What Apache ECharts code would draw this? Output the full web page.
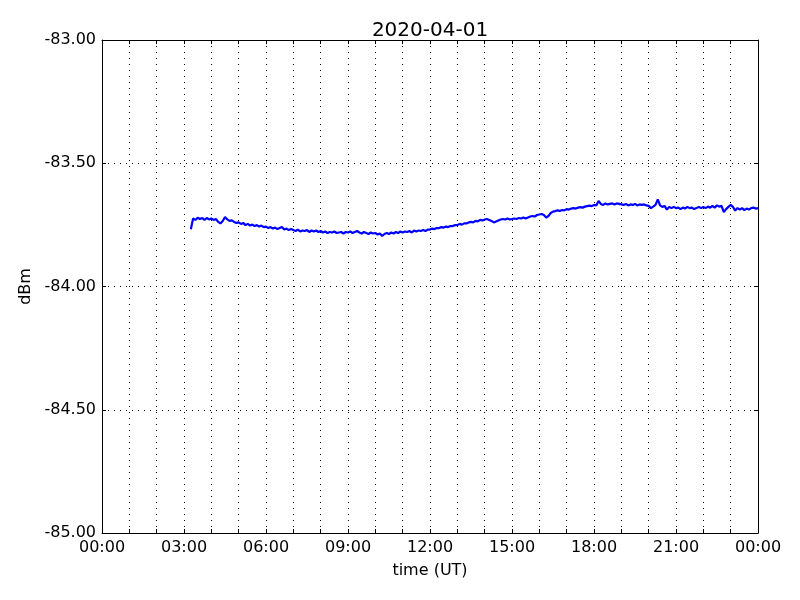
<!DOCTYPE html>
<html>
<head>
<meta charset="utf-8">
<script src="https://cdn.jsdelivr.net/npm/echarts@6/dist/echarts.min.js"></script>
<style>html,body{margin:0;padding:0;background:#fff;}#chart{width:800px;height:600px;}</style>
</head>
<body>
<div id="chart"></div>
<script>
// ---- data ----
const titleText = "2020-04-01";
const xAxisName = "time (UT)";
const yAxisName = "dBm";
const xTickHours = [0, 3, 6, 9, 12, 15, 18, 21, 24];
const yTicks = [-85.0, -84.5, -84.0, -83.5, -83.0];
const startTime = "03:15";   // first sample (UT)
const stepMinutes = 5;       // sample spacing
const powerDbm = [
  // 03:15 - 03:55
  -83.768, -83.724, -83.730, -83.721, -83.726, -83.722, -83.730, -83.722, -83.728,
  // 04
  -83.724, -83.730, -83.726, -83.738, -83.744, -83.734, -83.718, -83.728, -83.734, -83.732, -83.738, -83.742,
  // 05
  -83.740, -83.746, -83.742, -83.751, -83.746, -83.753, -83.749, -83.755, -83.751, -83.757, -83.753, -83.759,
  // 06
  -83.757, -83.763, -83.759, -83.765, -83.761, -83.767, -83.763, -83.759, -83.769, -83.765, -83.771, -83.767,
  // 07
  -83.771, -83.775, -83.769, -83.777, -83.773, -83.775, -83.771, -83.779, -83.773, -83.777, -83.773, -83.779,
  // 08
  -83.775, -83.781, -83.777, -83.783, -83.779, -83.781, -83.777, -83.783, -83.781, -83.779, -83.785, -83.779,
  // 09
  -83.781, -83.777, -83.783, -83.779, -83.775, -83.781, -83.785, -83.779, -83.783, -83.787, -83.781, -83.785,
  // 10
  -83.783, -83.789, -83.785, -83.795, -83.787, -83.783, -83.787, -83.781, -83.785, -83.779, -83.783, -83.777,
  // 11
  -83.781, -83.777, -83.779, -83.775, -83.781, -83.773, -83.777, -83.773, -83.775, -83.771, -83.775, -83.769,
  // 12
  -83.769, -83.765, -83.767, -83.763, -83.763, -83.759, -83.761, -83.757, -83.759, -83.755, -83.755, -83.751,
  // 13
  -83.751, -83.746, -83.749, -83.744, -83.744, -83.740, -83.738, -83.740, -83.734, -83.736, -83.730, -83.732,
  // 14
  -83.728, -83.726, -83.730, -83.734, -83.740, -83.736, -83.732, -83.728, -83.726, -83.728, -83.724, -83.728,
  // 15
  -83.726, -83.724, -83.726, -83.722, -83.724, -83.720, -83.724, -83.720, -83.716, -83.714, -83.716, -83.710,
  // 16
  -83.708, -83.706, -83.710, -83.720, -83.714, -83.702, -83.696, -83.694, -83.691, -83.694, -83.690, -83.691,
  // 17
  -83.686, -83.688, -83.684, -83.682, -83.684, -83.680, -83.678, -83.680, -83.676, -83.674, -83.672, -83.674,
  // 18
  -83.669, -83.671, -83.653, -83.665, -83.669, -83.663, -83.667, -83.665, -83.663, -83.667, -83.663, -83.665,
  // 19
  -83.667, -83.669, -83.665, -83.671, -83.667, -83.669, -83.665, -83.671, -83.667, -83.669, -83.667, -83.671,
  // 20
  -83.673, -83.682, -83.676, -83.669, -83.647, -83.671, -83.677, -83.673, -83.688, -83.677, -83.682, -83.677,
  // 21
  -83.682, -83.680, -83.686, -83.680, -83.684, -83.677, -83.682, -83.680, -83.686, -83.682, -83.677, -83.682,
  // 22
  -83.677, -83.682, -83.676, -83.680, -83.673, -83.680, -83.671, -83.676, -83.673, -83.698, -83.686, -83.677,
  // 23 - 24:00
  -83.669, -83.677, -83.692, -83.682, -83.688, -83.682, -83.690, -83.684, -83.688, -83.682, -83.680, -83.684, -83.682
];

// ---- build ----
const [sh, sm] = startTime.split(":").map(Number);
const seriesData = powerDbm.map((v, i) => [(sh * 60 + sm + i * stepMinutes) / 60, v]);
const pad = n => (n < 10 ? "0" : "") + n;
const font = "DejaVu Sans";
const dotted = { color: "#000", width: 1, type: [1, 5] };

const chart = echarts.init(document.getElementById("chart"), null, { renderer: "canvas" });
const xCommon = {
  type: "value", min: xTickHours[0], max: xTickHours[xTickHours.length - 1],
  interval: xTickHours[1] - xTickHours[0],
  axisLine: { show: true, onZero: false, lineStyle: { color: "#000", width: 1 } },
  axisTick: { show: true, inside: true, length: 4, lineStyle: { color: "#000" } },
  minorTick: { show: true, splitNumber: 3, length: 4, lineStyle: { color: "#000" } }
};
const yCommon = {
  type: "value", min: yTicks[0], max: yTicks[yTicks.length - 1],
  interval: yTicks[1] - yTicks[0],
  axisLine: { show: true, onZero: false, lineStyle: { color: "#000", width: 1 } },
  axisTick: { show: true, inside: true, length: 4, lineStyle: { color: "#000" } }
};
chart.setOption({
  animation: false,
  backgroundColor: "#fff",
  title: {
    text: titleText, left: 425, top: 16, textAlign: "center",
    textStyle: { fontFamily: font, fontSize: 20, fontWeight: "normal", color: "#000" }
  },
  grid: { left: 102, right: 42, top: 40, bottom: 67, containLabel: false },
  xAxis: [
    Object.assign({}, xCommon, {
      position: "bottom",
      name: xAxisName, nameLocation: "middle", nameGap: 30,
      nameTextStyle: { fontFamily: font, fontSize: 16, color: "#000" },
      axisLabel: { show: true, margin: 7, fontFamily: font, fontSize: 16, color: "#000",
        formatter: v => pad(Math.round(v) % 24) + ":00" },
      splitLine: { show: true, lineStyle: dotted },
      minorSplitLine: { show: true, lineStyle: dotted }
    }),
    Object.assign({}, xCommon, {
      position: "top",
      axisLabel: { show: false },
      splitLine: { show: false }
    })
  ],
  yAxis: [
    Object.assign({}, yCommon, {
      position: "left",
      name: yAxisName, nameLocation: "middle", nameGap: 66,
      nameTextStyle: { fontFamily: font, fontSize: 16, color: "#000" },
      axisLabel: { show: true, margin: 6, fontFamily: font, fontSize: 16, color: "#000",
        formatter: v => v.toFixed(2) },
      splitLine: { show: true, lineStyle: dotted }
    }),
    Object.assign({}, yCommon, {
      position: "right",
      axisLabel: { show: false },
      splitLine: { show: false }
    })
  ],
  series: [{
    type: "line", xAxisIndex: 0, yAxisIndex: 0,
    data: seriesData, showSymbol: false, symbol: "none",
    lineStyle: { color: "#0000ff", width: 2.2 },
    itemStyle: { color: "#0000ff" }
  }]
});
</script>
</body>
</html>
